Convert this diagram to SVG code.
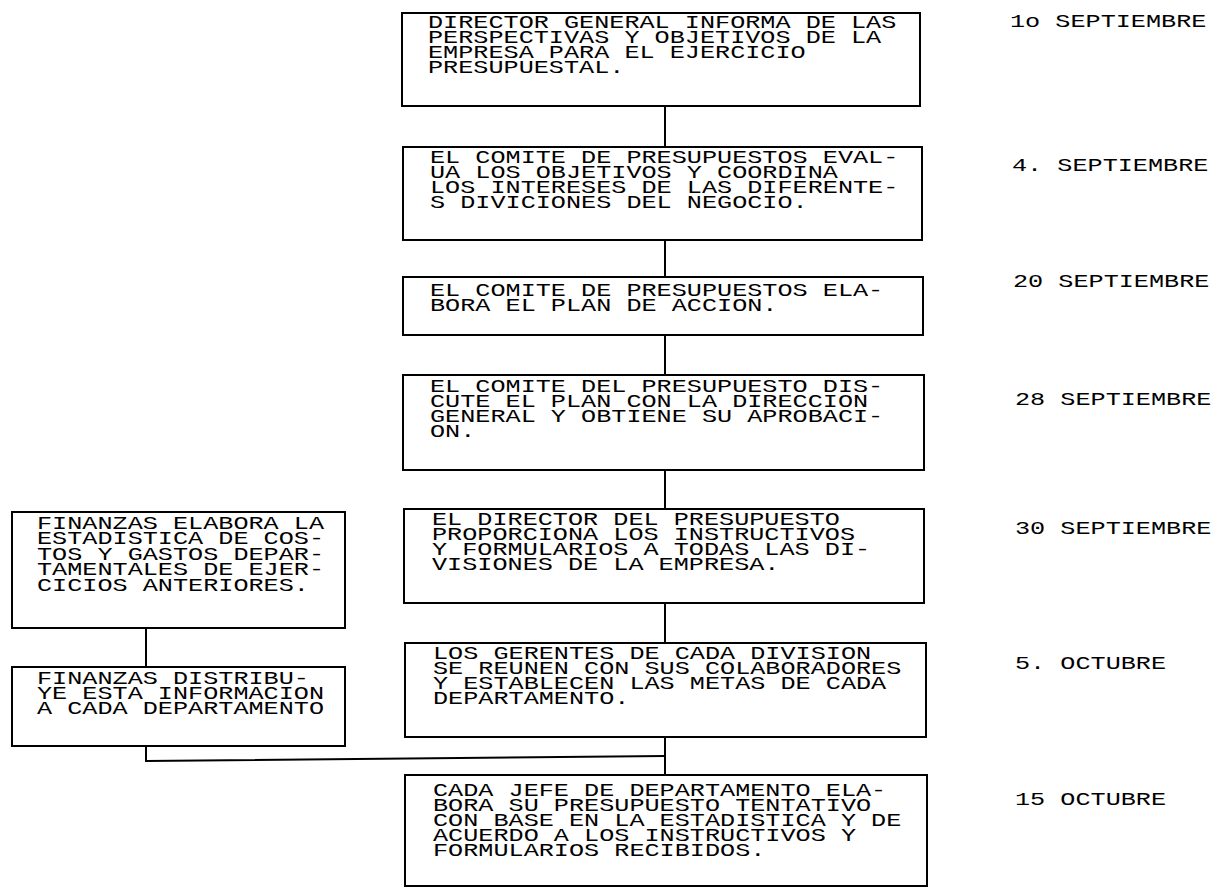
<svg xmlns="http://www.w3.org/2000/svg" width="1216" height="888" viewBox="0 0 1216 888">
<style>
text{font-family:"Liberation Mono","Courier New",monospace;font-size:18px;fill:#000}
.box{fill:#fff;stroke:#000;stroke-width:2}
.ln{stroke:#000;stroke-width:2;fill:none}
</style>
<rect width="1216" height="888" fill="#fff"/>
<g id="connectors">
<line class="ln" x1="665" y1="106" x2="665" y2="147"/>
<line class="ln" x1="665" y1="240" x2="665" y2="277"/>
<line class="ln" x1="665" y1="335" x2="665" y2="375"/>
<line class="ln" x1="665" y1="470" x2="665" y2="509"/>
<line class="ln" x1="665" y1="603" x2="665" y2="643"/>
<line class="ln" x1="665" y1="737" x2="665" y2="775"/>
<line class="ln" x1="146" y1="628" x2="146" y2="667"/>
<polyline class="ln" points="146,746 146,761 665,756"/>
</g>
<g id="n1">
<rect class="box" x="402" y="13" width="518" height="93"/>
<text transform="translate(428,0) scale(1.4,1)"><tspan x="0" y="28">DIRECTOR GENERAL INFORMA DE LAS</tspan><tspan x="0" y="43">PERSPECTIVAS Y OBJETIVOS DE LA</tspan><tspan x="0" y="58">EMPRESA PARA EL EJERCICIO</tspan><tspan x="0" y="73">PRESUPUESTAL.</tspan></text>
</g>
<g id="n2">
<rect class="box" x="403" y="147" width="519" height="93"/>
<text transform="translate(430,0) scale(1.4,1)"><tspan x="0" y="163">EL COMITE DE PRESUPUESTOS EVAL-</tspan><tspan x="0" y="178">UA LOS OBJETIVOS Y COORDINA</tspan><tspan x="0" y="193">LOS INTERESES DE LAS DIFERENTE-</tspan><tspan x="0" y="208">S DIVICIONES DEL NEGOCIO.</tspan></text>
</g>
<g id="n3">
<rect class="box" x="403" y="277" width="520" height="58"/>
<text transform="translate(430,0) scale(1.4,1)"><tspan x="0" y="296">EL COMITE DE PRESUPUESTOS ELA-</tspan><tspan x="0" y="311">BORA EL PLAN DE ACCION.</tspan></text>
</g>
<g id="n4">
<rect class="box" x="403" y="375" width="521" height="95"/>
<text transform="translate(430,0) scale(1.4,1)"><tspan x="0" y="392">EL COMITE DEL PRESUPUESTO DIS-</tspan><tspan x="0" y="407">CUTE EL PLAN CON LA DIRECCION</tspan><tspan x="0" y="422">GENERAL Y OBTIENE SU APROBACI-</tspan><tspan x="0" y="437">ON.</tspan></text>
</g>
<g id="n5">
<rect class="box" x="404" y="509" width="520" height="94"/>
<text transform="translate(432,0) scale(1.4,1)"><tspan x="0" y="525">EL DIRECTOR DEL PRESUPUESTO</tspan><tspan x="0" y="540">PROPORCIONA LOS INSTRUCTIVOS</tspan><tspan x="0" y="555">Y FORMULARIOS A TODAS LAS DI-</tspan><tspan x="0" y="570">VISIONES DE LA EMPRESA.</tspan></text>
</g>
<g id="n6">
<rect class="box" x="405" y="643" width="521" height="94"/>
<text transform="translate(433,0) scale(1.4,1)"><tspan x="0" y="659">LOS GERENTES DE CADA DIVISION</tspan><tspan x="0" y="674">SE REUNEN CON SUS COLABORADORES</tspan><tspan x="0" y="689">Y ESTABLECEN LAS METAS DE CADA</tspan><tspan x="0" y="704">DEPARTAMENTO.</tspan></text>
</g>
<g id="n7">
<rect class="box" x="405" y="775" width="522" height="111"/>
<text transform="translate(433,0) scale(1.4,1)"><tspan x="0" y="796">CADA JEFE DE DEPARTAMENTO ELA-</tspan><tspan x="0" y="811">BORA SU PRESUPUESTO TENTATIVO</tspan><tspan x="0" y="826">CON BASE EN LA ESTADISTICA Y DE</tspan><tspan x="0" y="841">ACUERDO A LOS INSTRUCTIVOS Y</tspan><tspan x="0" y="856">FORMULARIOS RECIBIDOS.</tspan></text>
</g>
<g id="l1">
<rect class="box" x="12" y="512" width="333" height="116"/>
<text transform="translate(37,0) scale(1.4,1)"><tspan x="0" y="529">FINANZAS ELABORA LA</tspan><tspan x="0" y="544.5">ESTADISTICA DE COS-</tspan><tspan x="0" y="560">TOS Y GASTOS DEPAR-</tspan><tspan x="0" y="575.5">TAMENTALES DE EJER-</tspan><tspan x="0" y="591">CICIOS ANTERIORES.</tspan></text>
</g>
<g id="l2">
<rect class="box" x="12" y="667" width="333" height="79"/>
<text transform="translate(37,0) scale(1.4,1)"><tspan x="0" y="684">FINANZAS DISTRIBU-</tspan><tspan x="0" y="699">YE ESTA INFORMACION</tspan><tspan x="0" y="714">A CADA DEPARTAMENTO</tspan></text>
</g>
<g id="dates">
<text transform="translate(1010,0) scale(1.4,1)" y="27">1o SEPTIEMBRE</text>
<text transform="translate(1012,0) scale(1.4,1)" y="171">4. SEPTIEMBRE</text>
<text transform="translate(1013,0) scale(1.4,1)" y="287">20 SEPTIEMBRE</text>
<text transform="translate(1015,0) scale(1.4,1)" y="405">28 SEPTIEMBRE</text>
<text transform="translate(1015,0) scale(1.4,1)" y="534">30 SEPTIEMBRE</text>
<text transform="translate(1015,0) scale(1.4,1)" y="669">5. OCTUBRE</text>
<text transform="translate(1015,0) scale(1.4,1)" y="805">15 OCTUBRE</text>
</g>
</svg>
